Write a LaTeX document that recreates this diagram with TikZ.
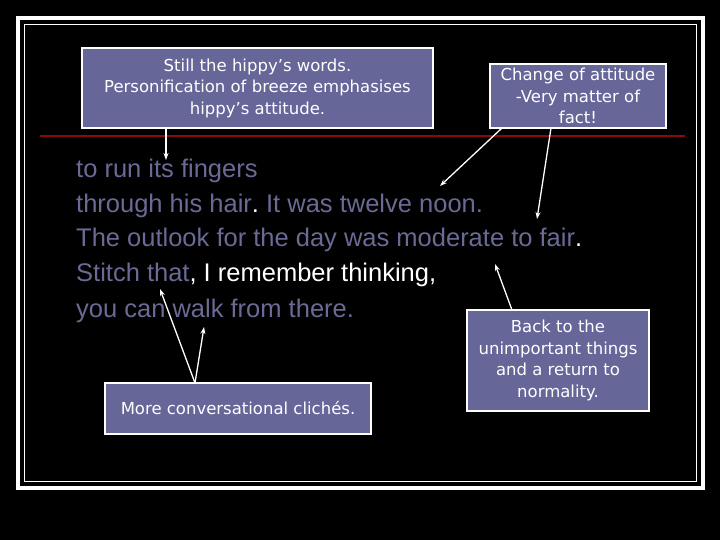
\documentclass[tikz,border=0pt]{standalone}
\usepackage{fontspec}
\usetikzlibrary{arrows.meta}
\setmainfont{Liberation Sans}
\newfontfamily\boxfont{DejaVu Sans}
\definecolor{slate}{HTML}{666699}
\definecolor{txt}{HTML}{6A6A94}
\definecolor{redline}{HTML}{8B0A0A}
\begin{document}
\begin{tikzpicture}[x=1pt,y=-1pt,
  note/.style={draw=white,line width=1.2pt,fill=slate,text=white,align=center,font=\boxfont\fontsize{16.5}{21.5}\selectfont,inner sep=0pt},
  arr/.style={draw=white,line width=1.3pt,-{Stealth[length=7pt,width=5pt]}},
  line/.style={font=\fontsize{25.5}{25}\selectfont,anchor=base west,text=txt,inner sep=0pt}]
\fill[black] (0,0) rectangle (720,540);
\useasboundingbox (0,0) rectangle (720,540);
\draw[white,line width=4pt] (18,18) rectangle (703,488);
\draw[white,line width=1.2pt] (24.5,24.5) rectangle (696.5,481.5);
\draw[redline,line width=2.5pt] (40,136) -- (685,136);
\node[note,minimum width=351,minimum height=80] (b1) at (257.5,88) {Still the hippy’s words.\\Personification of breeze emphasises\\hippy’s attitude.};
\node[note,minimum width=176,minimum height=64] (b2) at (578,96) {Change of attitude\\-Very matter of\\fact!};
\node[note,minimum width=266,minimum height=51] (b3) at (238,408.5) {More conversational clichés.};
\node[note,minimum width=182,minimum height=101] (b4) at (558,360.5) {Back to the\\unimportant things\\and a return to\\normality.};
\node[line] (l1) at (76,178) {to run its fingers};
\node[line] (l2) at (76,213) {through his hair\textcolor{white}{.}~It was twelve noon.};
\node[line] (l3) at (76,247) {The outlook for the day was moderate to fair\textcolor{white}{.}};
\node[line] (l4) at (76,281) {Stitch that\textcolor{white}{, I remember thinking,}};
\node[line] (l5) at (76,317) {you can walk from there.};
\coordinate (t1) at (166,160);
\coordinate (t2) at (440,186);
\coordinate (t3) at (537,219);
\coordinate (t4) at (495,264);
\coordinate (t5) at (160,289);
\coordinate (t6) at (204,327);
\coordinate (s1) at (166,128);
\coordinate (s2) at (502,128);
\coordinate (s3) at (551,128);
\coordinate (s4) at (512,310);
\coordinate (s5) at (195,383);
\draw[arr] (s1) -- (t1);
\draw[arr] (s2) -- (t2);
\draw[arr] (s3) -- (t3);
\draw[arr] (s4) -- (t4);
\draw[arr] (s5) -- (t5);
\draw[arr] (s5) -- (t6);
\end{tikzpicture}
\end{document}
